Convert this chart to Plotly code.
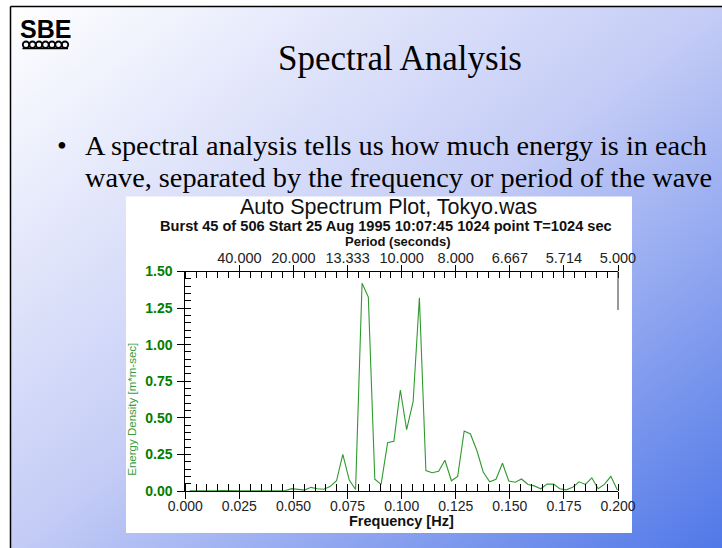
import base64
import plotly.graph_objects as go

W, H = 722, 548

# ---------------- data ----------------
freq_hz = [0.0020, 0.0050, 0.0079, 0.0109, 0.0138, 0.0168, 0.0197, 0.0227,
           0.0256, 0.0286, 0.0315, 0.0345, 0.0374, 0.0404, 0.0433, 0.0463,
           0.0492, 0.0522, 0.0551, 0.0581, 0.0610, 0.0640, 0.0669, 0.0699,
           0.0728, 0.0758, 0.0787, 0.0817, 0.0846, 0.0876, 0.0905, 0.0935,
           0.0964, 0.0994, 0.1023, 0.1053, 0.1082, 0.1112, 0.1141, 0.1171,
           0.1200, 0.1230, 0.1259, 0.1289, 0.1318, 0.1348, 0.1377, 0.1407,
           0.1436, 0.1466, 0.1495, 0.1525, 0.1554, 0.1584, 0.1613, 0.1643,
           0.1672, 0.1702, 0.1731, 0.1761, 0.1790, 0.1820, 0.1849, 0.1879,
           0.1908, 0.1938, 0.1967, 0.1997]
energy_density = [0.002, 0.001, 0.001, 0.003, 0.002, 0.003, 0.001, 0.002,
                  0.001, 0.002, 0.003, 0.001, 0.002, 0.001, 0.002, 0.003,
                  0.016, 0.012, 0.006, 0.025, 0.015, 0.012, 0.030, 0.070,
                  0.250, 0.075, 0.010, 1.420, 1.325, 0.080, 0.045, 0.330,
                  0.340, 0.690, 0.420, 0.610, 1.320, 0.140, 0.125, 0.135,
                  0.210, 0.070, 0.100, 0.410, 0.390, 0.275, 0.130, 0.063,
                  0.080, 0.190, 0.068, 0.060, 0.082, 0.045, 0.035, 0.015,
                  0.047, 0.047, 0.015, 0.008, 0.025, 0.063, 0.045, 0.090,
                  0.015, 0.047, 0.100, 0.007]

freq_ticks = [0.000, 0.025, 0.050, 0.075, 0.100, 0.125, 0.150, 0.175, 0.200]
period_tick_freqs = [0.025, 0.050, 0.075, 0.100, 0.125, 0.150, 0.175, 0.200]
period_tick_labels = ["40.000", "20.000", "13.333", "10.000", "8.000",
                      "6.667", "5.714", "5.000"]
energy_ticks = [0.00, 0.25, 0.50, 0.75, 1.00, 1.25, 1.50]

chart_title = "Auto Spectrum Plot, Tokyo.was"
chart_subtitle = "Burst 45 of 506 Start 25 Aug 1995 10:07:45 1024 point T=1024 sec"
slide_title = "Spectral Analysis"
bullet_lines = ["A spectral analysis tells us how much energy is in each",
                "wave, separated by the frequency or period of the wave"]


def px(x):
    return x / W


def py(y):
    return 1 - y / H


SANS = "Liberation Sans, Arial, sans-serif"
SERIF = "Liberation Serif, Times New Roman, serif"
GREEN = "#008000"

X0, X1 = 185.3, 618.0
Y0, Y1 = 491.0, 271.5

fig = go.Figure()
fig.add_trace(go.Scatter(x=freq_hz, y=energy_density, mode="lines",
                         line=dict(color="#2e9a2e", width=1.1),
                         xaxis="x", yaxis="y", hoverinfo="skip",
                         showlegend=False))
# helper traces so overlay axes are drawn
for xa, ya in [("x2", "y"), ("x3", "y"), ("x4", "y"), ("x", "y2")]:
    fig.add_trace(go.Scatter(x=[None], y=[None], xaxis=xa, yaxis=ya,
                             showlegend=False, hoverinfo="skip"))

dom_x = [px(X0), px(X1)]
dom_y = [py(Y0), py(Y1)]

axis_common = dict(showgrid=False, zeroline=False, domain=dom_x,
                   range=[0, 0.2], fixedrange=True, automargin=False)

fig.update_layout(
    width=W, height=H, autosize=False,
    margin=dict(l=0, r=0, t=0, b=0, pad=0, autoexpand=False),
    paper_bgcolor="white",
    plot_bgcolor="rgba(0,0,0,0)",
    showlegend=False,
    hovermode=False,
    xaxis=dict(**axis_common, anchor="y", side="bottom",
               tickvals=freq_ticks, ticktext=[f"{v:.3f}" for v in freq_ticks],
               ticks="outside", ticklen=7, tickcolor="black", tickwidth=1,
               ticklabelstandoff=-5,
               showline=True, linecolor="black", linewidth=1,
               tickfont=dict(family=SANS, size=14, color="#222222"),
               minor=dict(dtick=0.005, tick0=0, ticks="inside", ticklen=7,
                          tickcolor="black", tickwidth=1)),
    xaxis3=dict(**axis_common, anchor="y", side="bottom", overlaying="x",
                tickvals=freq_ticks, ticks="inside", ticklen=7,
                tickcolor="black", showticklabels=False, showline=False),
    xaxis2=dict(**axis_common, anchor="y", side="top", overlaying="x",
                tickvals=period_tick_freqs, ticktext=period_tick_labels,
                ticks="outside", ticklen=6, tickcolor="black",
                ticklabelstandoff=-4,
                showline=True, linecolor="black", linewidth=1,
                tickfont=dict(family=SANS, size=14.5, color="#222222"),
                minor=dict(dtick=0.005, tick0=0, ticks="inside", ticklen=6,
                           tickcolor="black", tickwidth=1)),
    xaxis4=dict(**axis_common, anchor="y", side="top", overlaying="x",
                tickvals=period_tick_freqs, ticks="inside", ticklen=6,
                tickcolor="black", showticklabels=False, showline=False),
    yaxis=dict(domain=dom_y, range=[0, 1.5], anchor="x", showgrid=False,
               zeroline=False, fixedrange=True, automargin=False,
               tickvals=energy_ticks,
               ticktext=[f"{v:.2f}" for v in energy_ticks],
               ticks="outside", ticklen=7, tickcolor="black",
               ticklabelstandoff=2,
               showline=True, linecolor="black", linewidth=1,
               tickfont=dict(family=SANS, size=14, color=GREEN, weight="bold"),
               minor=dict(dtick=0.05, tick0=0, ticks="inside", ticklen=6,
                          tickcolor="black", tickwidth=1)),
    yaxis2=dict(domain=dom_y, range=[0, 1.5], anchor="x", overlaying="y",
                showgrid=False, zeroline=False, fixedrange=True,
                automargin=False,
                tickvals=energy_ticks, ticks="inside", ticklen=6,
                tickcolor="black", showticklabels=False, showline=False),
)

# background gradient
svg = (f'<svg xmlns="http://www.w3.org/2000/svg" width="{W}" height="{H}" '
       f'viewBox="0 0 {W} {H}" preserveAspectRatio="none">'
       '<defs><linearGradient id="g" x1="0" y1="0" x2="1" y2="1">'
       '<stop offset="0" stop-color="#ffffff"/>'
       '<stop offset="0.5" stop-color="#c4ccf6"/>'
       '<stop offset="1" stop-color="#5078e8"/>'
       '</linearGradient></defs>'
       f'<rect x="0" y="0" width="{W}" height="{H}" fill="url(#g)"/></svg>')
uri = "data:image/svg+xml;base64," + base64.b64encode(svg.encode()).decode()
fig.add_layout_image(dict(source=uri, xref="paper", yref="paper",
                          x=px(11), y=py(7), sizex=(W - 11) / W,
                          sizey=(H - 7) / H,
                          xanchor="left", yanchor="top", sizing="stretch",
                          layer="below"))

shapes = []
# slide border
shapes.append(dict(type="line", xref="paper", yref="paper",
                   x0=px(10.5), x1=px(10.5), y0=py(6.5), y1=0,
                   line=dict(color="black", width=1.5)))
shapes.append(dict(type="line", xref="paper", yref="paper",
                   x0=px(10.5), x1=1, y0=py(6.5), y1=py(6.5),
                   line=dict(color="black", width=1.5)))
# white chart panel
shapes.append(dict(type="rect", xref="paper", yref="paper", layer="below",
                   x0=px(126), x1=px(632), y0=py(533), y1=py(196.5),
                   fillcolor="white", line=dict(width=0)))
# short right frame stub under the top axis
shapes.append(dict(type="line", xref="paper", yref="paper",
                   x0=px(X1), x1=px(X1), y0=py(271.5), y1=py(310),
                   line=dict(color="#333333", width=1)))
# logo waves
for i in range(7):
    cx = 26 + i * 6.5
    shapes.append(dict(type="circle", xref="paper", yref="paper",
                       x0=px(cx - 3.2), x1=px(cx + 3.2),
                       y0=py(48), y1=py(41.5),
                       line=dict(color="black", width=1.8)))
shapes.append(dict(type="line", xref="paper", yref="paper",
                   x0=px(22.5), x1=px(68), y0=py(48.5), y1=py(48.5),
                   line=dict(color="black", width=1.4)))
fig.update_layout(shapes=shapes)

ann = []


def text(t, x, y, size, family=SANS, color="#111111", xanchor="center",
         weight="normal", angle=0):
    ann.append(dict(text=t, xref="paper", yref="paper", x=px(x), y=py(y),
                    xanchor=xanchor, yanchor="middle", showarrow=False,
                    textangle=angle,
                    font=dict(family=family, size=size, color=color,
                              weight=weight)))


text("SBE", 45.5, 29, 25, family="Liberation Sans, Arial, sans-serif",
     color="black", weight=900)
text(slide_title, 400, 58, 35, family=SERIF, color="black")
text("•", 62, 145, 28, family=SERIF, color="black")
text(bullet_lines[0], 83, 145, 28.3, family=SERIF, color="black", xanchor="left")
text(bullet_lines[1], 83, 177.5, 28.3, family=SERIF, color="black", xanchor="left")

text(chart_title, 388, 206.5, 21.5)
text(chart_subtitle, 386, 226, 14.6, weight="bold")
text("Period (seconds)", 397.5, 241.5, 13, weight="bold")
text("Frequency [Hz]", 401, 521, 14.5, weight="bold")
text("Energy Density [m*m-sec]", 131.7, 409, 11.5, color="#3c9c3c", angle=-90)

fig.update_layout(annotations=ann)

fig.write_html("out.html",
               config={"displayModeBar": False, "staticPlot": True},
               post_script="document.body.style.margin='0';"
                           "document.body.style.padding='0';")
